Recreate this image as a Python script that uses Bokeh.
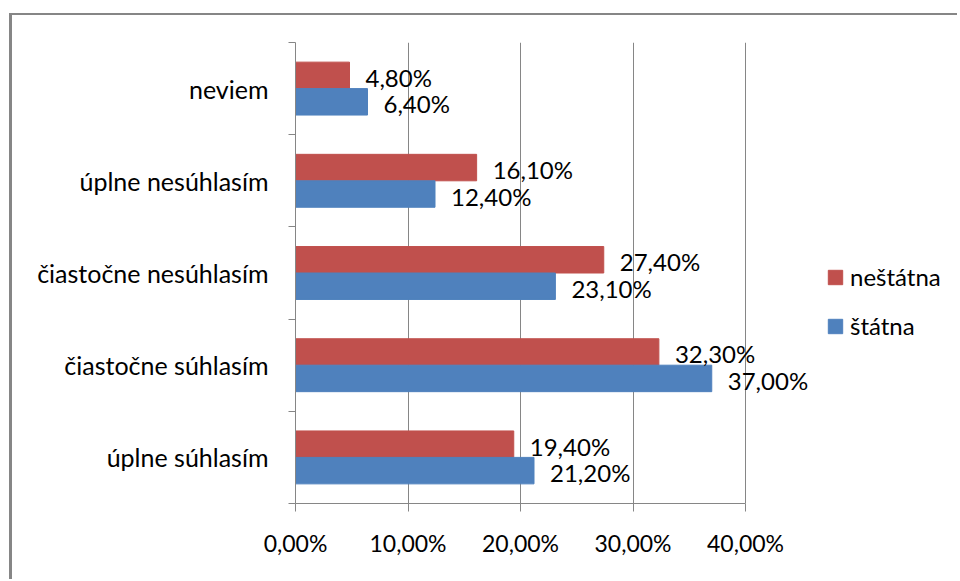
from bokeh.plotting import figure
from bokeh.models import Range1d, FixedTicker, Legend, LegendItem, ColumnDataSource, Spacer
from bokeh.layouts import column, row
from bokeh.transform import dodge
from bokeh.embed import file_html
from bokeh.resources import INLINE
from bokeh.core.properties import value

categories = ["úplne súhlasím", "čiastočne súhlasím", "čiastočne nesúhlasím",
              "úplne nesúhlasím", "neviem"]
nestatna = [19.4, 32.3, 27.4, 16.1, 4.8]
statna = [21.2, 37.0, 23.1, 12.4, 6.4]
series_names = ["neštátna", "štátna"]
series_colors = ["#C0504D", "#4F81BD"]
x_ticks = [0, 10, 20, 30, 40]
x_tick_labels = ["0,00%", "10,00%", "20,00%", "30,00%", "40,00%"]

FONT = "Lato"
GRAY = "#868686"


def fmt(v):
    return ("%.2f" % v).replace(".", ",") + "%"


pos = [i + 0.5 for i in range(len(categories))]
src = ColumnDataSource(dict(
    y=pos, cat=categories, nes=nestatna, sta=statna,
    nes_lbl=[fmt(v) for v in nestatna], sta_lbl=[fmt(v) for v in statna],
))

W, H = 948, 566
LEFT, TOP, FH = 283, 27, 461
# 40 units = 450 px; frame runs to the right edge of the figure
x_end = 40 * (W - LEFT) / 450.0
p = figure(width=W, height=H, x_range=Range1d(0, x_end), y_range=Range1d(0, 5),
           output_backend="svg", toolbar_location=None,
           min_border_left=LEFT, min_border_right=0, min_border_top=TOP,
           min_border_bottom=H - TOP - FH)
p.styles = {"box-shadow": "-3px -2px 0 0 #868686"}
p.outline_line_color = None
p.background_fill_color = "white"
p.border_fill_color = "white"

bw = 0.287
r1 = p.hbar(y=dodge("y", bw / 2, range=p.y_range), left=0, right="nes", height=bw,
            fill_color=series_colors[0], line_color=series_colors[0], source=src)
r2 = p.hbar(y=dodge("y", -bw / 2, range=p.y_range), left=0, right="sta", height=bw,
            fill_color=series_colors[1], line_color=series_colors[1], source=src)

for col, lbl, off in (("nes", "nes_lbl", bw / 2), ("sta", "sta_lbl", -bw / 2)):
    p.text(x=col, y=dodge("y", off, range=p.y_range), text=lbl, source=src,
           x_offset=16, y_offset=2, text_baseline="middle", text_align="left",
           text_font=value(FONT), text_font_size="24px", text_color="black")

# grid
p.ygrid.grid_line_color = None
p.xgrid.ticker = FixedTicker(ticks=x_ticks)
p.xgrid.grid_line_color = GRAY
p.xgrid.grid_line_width = 1

# x axis
xa = p.xaxis[0]
xa.ticker = FixedTicker(ticks=x_ticks, minor_ticks=[])
xa.bounds = (0, 40)
xa.major_label_overrides = {t: l for t, l in zip(x_ticks, x_tick_labels)}
xa.axis_line_color = GRAY
xa.major_tick_line_color = GRAY
xa.major_tick_out = 8
xa.major_tick_in = 0
xa.minor_tick_line_color = None
xa.major_label_standoff = 17
xa.major_label_text_font = FONT
xa.major_label_text_font_size = "23px"
xa.major_label_text_color = "black"

# y axis
ya = p.yaxis[0]
ya.ticker = FixedTicker(ticks=pos, minor_ticks=list(range(len(categories) + 1)))
ya.major_label_overrides = {pv: c for pv, c in zip(pos, categories)}
ya.axis_line_color = GRAY
ya.major_tick_line_color = None
ya.major_tick_out = 0
ya.major_tick_in = 0
ya.minor_tick_line_color = GRAY
ya.minor_tick_out = 7
ya.minor_tick_in = 0
ya.major_label_standoff = 20
ya.major_label_text_font = FONT
ya.major_label_text_font_size = "25px"
ya.major_label_text_color = "black"

legend = Legend(items=[LegendItem(label=series_names[0], renderers=[r1]),
                       LegendItem(label=series_names[1], renderers=[r2])],
                location=(531, 163), margin=0, padding=0, spacing=20,
                glyph_width=18, glyph_height=18, label_height=20,
                label_standoff=6, border_line_color=None,
                background_fill_alpha=0,
                label_text_font=FONT, label_text_font_size="24px",
                label_text_color="black")
p.add_layout(legend)

layout = column(Spacer(height=15), row(Spacer(width=12), p))
open("out.html", "w").write(file_html(layout, INLINE))
